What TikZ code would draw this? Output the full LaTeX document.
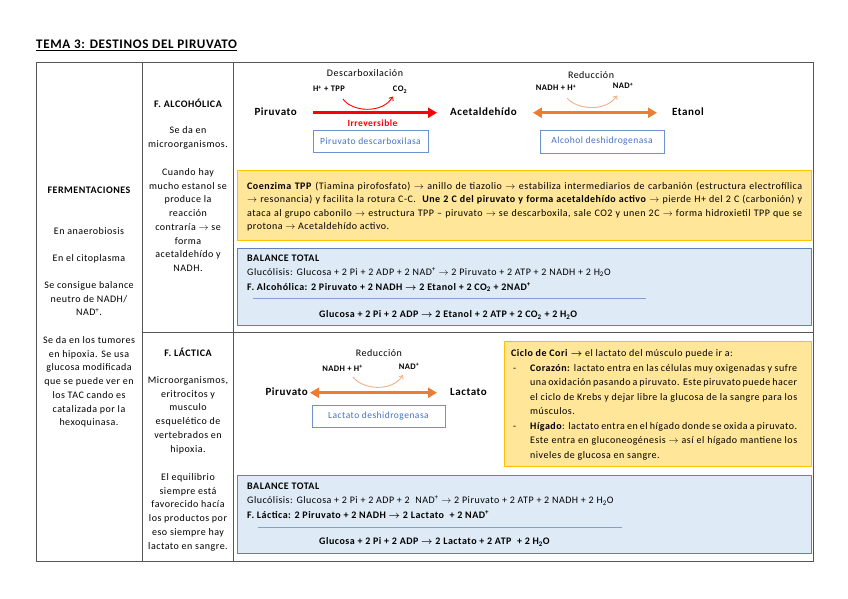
\documentclass[tikz,border=0pt]{standalone}
\usepackage{fontspec}
\setmainfont{Carlito}[LetterSpace=5]
\usetikzlibrary{arrows.meta}
\definecolor{tablegray}{RGB}{85,85,85}
\definecolor{arrred}{RGB}{255,0,0}
\definecolor{arrorange}{RGB}{237,125,49}
\definecolor{lightorange}{RGB}{244,177,131}
\definecolor{enzblue}{RGB}{68,114,196}
\definecolor{enzborder}{RGB}{110,145,210}
\definecolor{yfill}{RGB}{255,230,153}
\definecolor{yborder}{RGB}{255,192,0}
\definecolor{bfill}{RGB}{222,235,247}
\definecolor{bborder}{RGB}{96,128,190}
\definecolor{ruleblue}{RGB}{130,160,215}
\newcommand{\myra}{\ensuremath{\rightarrow}}
\newcommand{\mybra}{{\boldmath\ensuremath{\rightarrow}}}
\newcommand{\myplus}{\textsuperscript{+}}
\begin{document}
\begin{tikzpicture}[x=1pt,y=-1pt,
  tbl/.style={draw=tablegray,line width=1pt},
  colt/.style={font=\fontsize{10}{13.7}\selectfont,align=center,anchor=base,inner sep=0pt},
  colb/.style={font=\fontsize{10}{13.7}\selectfont\bfseries,align=center,anchor=base,inner sep=0pt},
  mol/.style={font=\fontsize{11}{12}\selectfont\bfseries,inner sep=0pt,text height=7.5pt,text depth=2pt},
  proc/.style={font=\fontsize{10}{11}\selectfont,inner sep=0pt,anchor=base},
  cof/.style={font=\fontsize{8.5}{9}\selectfont\bfseries,inner sep=0pt,anchor=base},
  enz/.style={draw=enzborder,line width=0.8pt,text=enzblue,font=\fontsize{9.5}{10}\selectfont,inner sep=0pt},
  ybox/.style={draw=yborder,fill=yfill,line width=1pt,inner sep=0pt,anchor=north west},
  bbox/.style={draw=bborder,fill=bfill,line width=1pt,inner sep=0pt,anchor=north west},
  btxt/.style={font=\fontsize{10}{14}\selectfont,inner sep=0pt,anchor=base west,align=left},
  redarr/.style={draw=arrred,line width=2.6pt,-{Triangle[length=9pt,width=10pt]}},
  orarr/.style={draw=arrorange,line width=2.6pt,{Triangle[length=9pt,width=10pt]}-{Triangle[length=9pt,width=10pt]}},
  redcurve/.style={draw=arrred,line width=0.9pt,-{Straight Barb[length=3pt,width=5pt]}},
  orcurve/.style={draw=lightorange,line width=0.9pt,-{Straight Barb[length=3pt,width=5pt]}},
  rulel/.style={draw=ruleblue,line width=0.8pt}
]
\useasboundingbox (0,0) rectangle (848,599);
\fill[white] (0,0) rectangle (848,599);

% title
\node[font=\fontsize{13.1}{14}\selectfont\bfseries,anchor=base west,inner sep=0pt] (title) at (36,48.5) {\underline{TEMA 3: DESTINOS DEL PIRUVATO}};

% table
\draw[tbl] (36,63) rectangle (813,561);
\draw[tbl] (142,63) -- (142,561);
\draw[tbl] (233,63) -- (233,561);
\draw[tbl] (142,332) -- (813,332);

% column 1 (anchor = baseline of last line)
\node[colb] (ferm) at (89,193.5) {FERMENTACIONES};
\node[colt] (anae) at (89,234.5) {En anaerobiosis};
\node[colt] (cito) at (89,261.5) {En el citoplasma};
\node[colt] (neutro) at (89,315.9) {Se consigue balance\\neutro de NADH/\\NAD\myplus.};
\node[colt] (tumor) at (89,425.7) {Se da en los tumores\\en hipoxia. Se usa\\glucosa modificada\\que se puede ver en\\los TAC cando es\\catalizada por la\\hexoquinasa.};

% column 2
\node[colb] (falc) at (188,107.5) {F. ALCOHÓLICA};
\node[colt] (micro1) at (188,147.2) {Se da en\\microorganismos.};
\node[colt] (cuando) at (188,271.4) {Cuando hay\\mucho estanol se\\produce la\\reacción\\contraría \myra{} se\\forma\\acetaldehído y\\NADH.};
\node[colb] (flac) at (188,356.5) {F. LÁCTICA};
\node[colt] (micro2) at (188,452) {Microorganismos,\\eritrocitos y\\musculo\\esquelético de\\vertebrados en\\hipoxia.};
\node[colt] (equil) at (188,549) {El equilibrio\\siempre está\\favorecido hacía\\los productos por\\eso siempre hay\\lactato en sangre.};

% ---- row 1 reaction
\node[mol,anchor=base east] (piru1) at (297,115.5) {Piruvato};
\node[mol,anchor=base west] (acet) at (450,115.5) {Acetaldehído};
\node[mol,anchor=base west] (etanol) at (672,115.5) {Etanol};
\draw[redarr,shorten <=16pt,shorten >=13pt] (piru1.east) -- (acet.west);
\draw[orarr,shorten <=16pt,shorten >=15pt] (acet.east) -- (etanol.west);

\node[proc] (desc) at (365,77) {Descarboxilación};
\node[cof] (htpp) at (329,92) {H\myplus{} + TPP};
\node[cof] (co2) at (400,92) {CO\textsubscript{2}};
\coordinate (c1s) at (343,99);
\coordinate (c1e) at (393,96.5);
\draw[redcurve] (c1s) .. controls (352,112) and (382,114) .. (c1e);
\node[font=\fontsize{9.5}{10}\selectfont\bfseries,text=arrred,inner sep=0pt,anchor=base] (irrev) at (372.5,126) {Irreversible};
\node[enz,minimum width=115pt,minimum height=22pt] (pdc) at (370.5,141) {Piruvato descarboxilasa};

\node[proc] (red1) at (591,79) {Reducción};
\node[cof] (nadh1) at (556,91) {NADH + H\myplus};
\node[cof] (nad1) at (623,89) {NAD\myplus};
\coordinate (c2s) at (567,98);
\coordinate (c2e) at (617,95.5);
\draw[orcurve] (c2s) .. controls (577,110) and (606,112) .. (c2e);
\node[enz,minimum width=124pt,minimum height=23pt] (adh) at (602,141.5) {Alcohol deshidrogenasa};

% coenzima box
\node[ybox,minimum width=574pt,minimum height=70pt] (coenzbox) at (237,170) {};
\node[font=\fontsize{10}{13.4}\selectfont,inner sep=0pt,anchor=base west,align=left] (coenz) at (247,229.7) {%
\makebox[555pt][s]{\textbf{Coenzima TPP} (Tiamina pirofosfato) \myra{} anillo de tiazolio \myra{} estabiliza intermediarios de carbanión (estructura electrofílica}\\
\makebox[555pt][s]{\myra{} resonancia) y facilita la rotura C-C.\ \ \textbf{Une\ 2 C del piruvato y forma acetaldehído activo} \myra{} pierde H+ del 2 C (carbonión) y}\\
\makebox[555pt][s]{ataca al grupo cabonilo \myra{} estructura TPP -- piruvato \myra{} se descarboxila, sale CO2 y unen 2C \myra{} forma hidroxietil TPP que se}\\
protona \myra{} Acetaldehído activo.};

% balance 1
\node[bbox,minimum width=574pt,minimum height=77pt] (bal1box) at (237,248) {};
\node[btxt] (bt1) at (247,261.5) {\textbf{BALANCE TOTAL}};
\node[btxt] (gl1) at (247,275) {Glucólisis: Glucosa + 2 Pi + 2 ADP + 2 NAD\myplus{} \myra{} 2 Piruvato + 2 ATP + 2 NADH + 2 H\textsubscript{2}O};
\node[btxt] (fa1) at (247,290) {\textbf{F. Alcohólica: 2 Piruvato + 2 NADH \mybra{} 2 Etanol + 2 CO\textsubscript{2} + 2NAD\myplus}};
\draw[rulel] (253,298) -- (646,298);
\node[btxt] (tot1) at (319,317.5) {\textbf{Glucosa + 2 Pi + 2 ADP \mybra{} 2 Etanol + 2 ATP + 2 CO\textsubscript{2} + 2 H\textsubscript{2}O}};

% ---- row 2 reaction
\node[mol,anchor=base east] (piru2) at (308,395.5) {Piruvato};
\node[mol,anchor=base west] (lact) at (450,395.5) {Lactato};
\draw[orarr,shorten <=2pt,shorten >=13pt] (piru2.east) -- (lact.west);
\node[proc] (red2) at (379,356) {Reducción};
\node[cof] (nadh2) at (342.5,371) {NADH + H\myplus};
\node[cof] (nad2) at (409,369) {NAD\myplus};
\coordinate (c3s) at (353,377);
\coordinate (c3e) at (403,375);
\draw[orcurve] (c3s) .. controls (363,390) and (392,392) .. (c3e);
\node[enz,minimum width=133pt,minimum height=22pt] (ldh) at (378.5,416) {Lactato deshidrogenasa};

% Cori box
\node[ybox,minimum width=307pt,minimum height=125pt] (coribox) at (504,341) {};
\node[btxt] (cori) at (511,356.5) {\textbf{Ciclo de Cori} \mybra{} el lactato del músculo puede ir a:};
\node[btxt] (dash1) at (513,371.5) {-};
\node[font=\fontsize{10}{14.4}\selectfont,inner sep=0pt,anchor=base west,align=left] (coraz) at (530,414.7) {%
\makebox[267pt][s]{\textbf{Corazón:} lactato entra en las células muy oxigenadas y sufre}\\
\makebox[267pt][s]{una oxidación pasando a piruvato. Este piruvato puede hacer}\\
\makebox[267pt][s]{el ciclo de Krebs y dejar libre la glucosa de la sangre para los}\\
músculos.};
\node[btxt] (dash2) at (513,429) {-};
\node[font=\fontsize{10}{14.6}\selectfont,inner sep=0pt,anchor=base west,align=left] (higado) at (530,458.2) {%
\makebox[267pt][s]{\textbf{Hígado}: lactato entra en el hígado donde se oxida a piruvato.}\\
\makebox[267pt][s]{Este entra en gluconeogénesis \myra{} así el hígado mantiene los}\\
niveles de glucosa en sangre.};

% balance 2
\node[bbox,minimum width=574pt,minimum height=78pt] (bal2box) at (237,475) {};
\node[btxt] (bt2) at (247,489.5) {\textbf{BALANCE TOTAL}};
\node[btxt] (gl2) at (247,503.5) {Glucólisis: Glucosa + 2 Pi + 2 ADP + 2\ \ NAD\myplus{} \myra{} 2 Piruvato + 2 ATP + 2 NADH + 2 H\textsubscript{2}O};
\node[btxt] (fl2) at (247,518.5) {\textbf{F. Láctica: 2 Piruvato + 2 NADH \mybra{} 2 Lactato\ \ + 2 NAD\myplus}};
\draw[rulel] (258,527) -- (622,527);
\node[btxt] (tot2) at (319,544.5) {\textbf{Glucosa + 2 Pi + 2 ADP \mybra{} 2 Lactato + 2 ATP\ \ + 2 H\textsubscript{2}O}};
\end{tikzpicture}
\end{document}
